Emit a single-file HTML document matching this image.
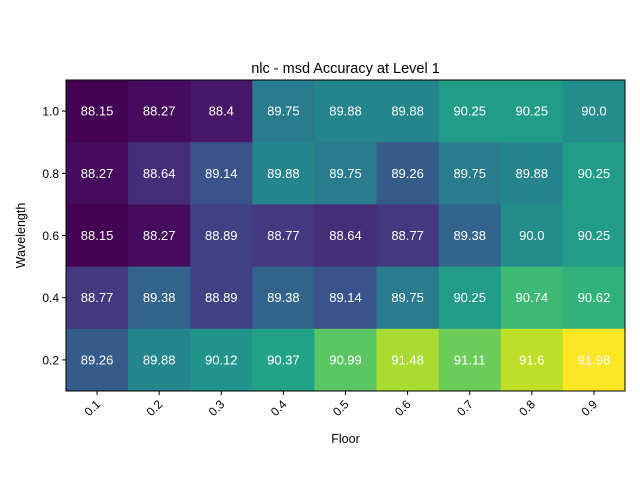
<!DOCTYPE html>
<html><head><meta charset="utf-8"><style>
body{margin:0;background:#fff;}
svg{display:block;font-family:"Liberation Sans","DejaVu Sans",sans-serif;}
</style></head><body>
<svg id="chart" width="640" height="480"></svg>
<script>
const floors = ["0.1","0.2","0.3","0.4","0.5","0.6","0.7","0.8","0.9"];
const wavelengths = ["1.0","0.8","0.6","0.4","0.2"];
const row10 = [88.15,88.27,88.4,89.75,89.88,89.88,90.25,90.25,90.0];
const row08 = [88.27,88.64,89.14,89.88,89.75,89.26,89.75,89.88,90.25];
const row06 = [88.15,88.27,88.89,88.77,88.64,88.77,89.38,90.0,90.25];
const row04 = [88.77,89.38,88.89,89.38,89.14,89.75,90.25,90.74,90.62];
const row02 = [89.26,89.88,90.12,90.37,90.99,91.48,91.11,91.6,91.98];
const values = [row10,row08,row06,row04,row02];

const NS="http://www.w3.org/2000/svg";
const svg=document.getElementById('chart');
const L=66,R=625,T=80,B=391;
const cw=(R-L)/floors.length, ch=(B-T)/wavelengths.length;
const xCol=i=>L+i*cw, yRow=j=>T+j*ch;
const all=values.flat(), vmin=Math.min(...all), vmax=Math.max(...all);
const vir=["#440154","#482475","#414487","#355f8d","#2a788e","#21918c","#22a884","#44bf70","#7ad151","#bddf26","#fde725"];
function hex(h){return [1,3,5].map(k=>parseInt(h.substr(k,2),16));}
function color(v){let t=(v-vmin)/(vmax-vmin);t=Math.max(0,Math.min(1,t));const p=t*10,i=Math.min(9,Math.floor(p)),f=p-i;const a=hex(vir[i]),b=hex(vir[i+1]);return `rgb(${a.map((x,k)=>Math.round(x+(b[k]-x)*f)).join(',')})`;}
function fmt(v){return Number.isInteger(v)?v.toFixed(1):String(v);}
function mk(tag,attrs,txt){const e=document.createElementNS(NS,tag);for(const k in attrs)e.setAttribute(k,attrs[k]);if(txt!==undefined)e.textContent=txt;svg.appendChild(e);return e;}

values.forEach((row,j)=>row.forEach((v,i)=>{
  const r=mk('rect',{x:xCol(i),y:yRow(j),width:cw+0.5,height:ch+0.5,fill:color(v)});
  
  
  const t=mk('text',{x:xCol(i)+cw/2,y:yRow(j)+ch/2+4.5,'text-anchor':'middle','font-size':13,fill:'#fff'},fmt(v));
  
  
}));
const fr=mk('rect',{x:L,y:T,width:R-L,height:B-T,fill:'none',stroke:'#000','stroke-width':1});



floors.forEach((f,i)=>{
  const x=xCol(i)+cw/2;
  mk('line',{x1:x,y1:B,x2:x,y2:B+4,stroke:'#000'});
  const t=mk('text',{x:0,y:0,'text-anchor':'end','font-size':12,fill:'#000',transform:`translate(${x+4},${B+14}) rotate(-45)`},f);
  
  
});
wavelengths.forEach((w,j)=>{
  const y=yRow(j)+ch/2;
  mk('line',{x1:L-4,y1:y,x2:L,y2:y,stroke:'#000'});
  const t=mk('text',{x:L-7,y:y+4.5,'text-anchor':'end','font-size':12,fill:'#000'},w);
  
  
});
const ti=mk('text',{x:(L+R)/2,y:73,'text-anchor':'middle','font-size':14.5,fill:'#000'},'nlc - msd Accuracy at Level 1');


const xl=mk('text',{x:(L+R)/2,y:443,'text-anchor':'middle','font-size':12.5,fill:'#000'},'Floor');


const yl=mk('text',{x:0,y:0,'text-anchor':'middle','font-size':12.5,fill:'#000',transform:`translate(25,${(T+B)/2}) rotate(-90)`},'Wavelength');


</script>
</body></html>
